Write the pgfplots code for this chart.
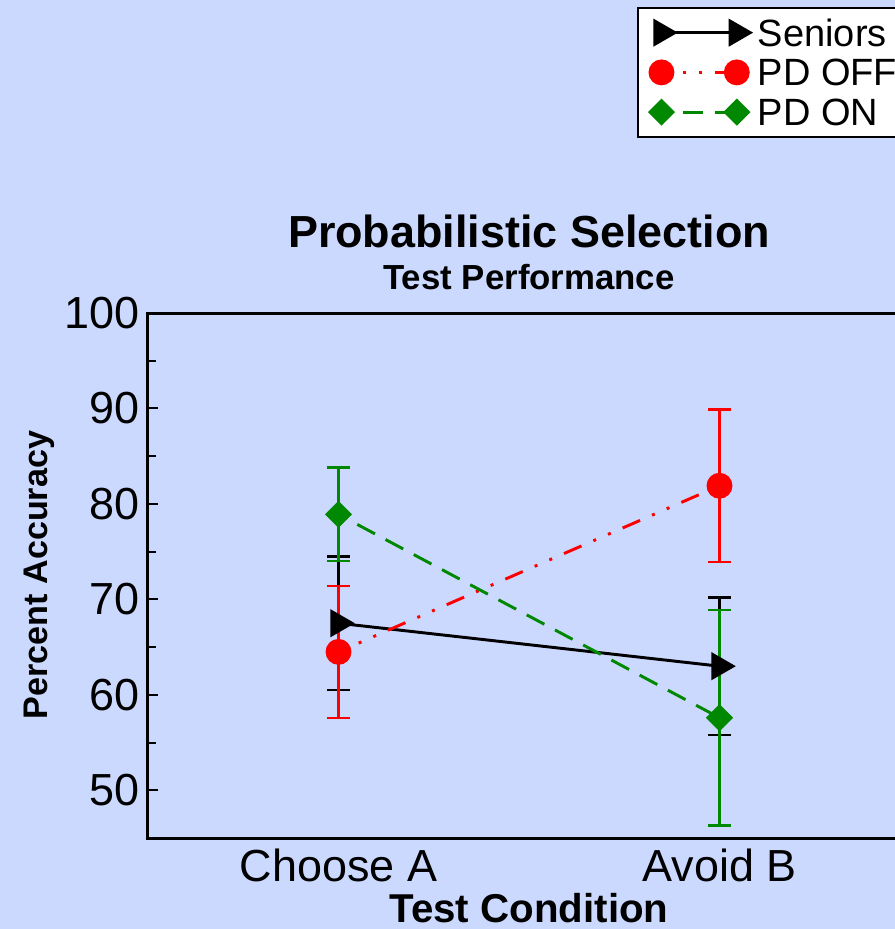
\documentclass[border=0pt]{standalone}
\usepackage{pgfplots}
\pgfplotsset{compat=1.18}
\usepackage{fontspec}
\setmainfont{Liberation Sans}
\definecolor{bgblue}{RGB}{204,217,255}
\definecolor{pdred}{RGB}{255,0,0}
\definecolor{pdgreen}{RGB}{0,136,0}
\begin{document}
\begin{tikzpicture}
\fill[bgblue] (0,0) rectangle (671.25pt,696.75pt);
\begin{axis}[
  at={(111pt,68.25pt)}, anchor=south west,
  scale only axis, width=571.5pt, height=393.75pt,
  xmin=-0.5, xmax=1.5, ymin=45, ymax=100,
  clip=false,
  axis line style={line width=2.25pt},
  xtick={0,1}, xticklabels={Choose A, Avoid B},
  xtick style={draw=none},
  ytick={50,60,70,80,90,100},
  minor ytick={55,65,75,85,95},
  ytick pos=left, tick align=inside,
  major tick length=7.5pt, minor tick length=6pt,
  every tick/.style={black, line width=1.5pt},
  /pgf/number format/assume math mode=true,
  xticklabel style={font=\fontsize{33.7}{33.7}\selectfont, anchor=base, inner sep=0pt, yshift=-32.8pt},
  yticklabel style={font=\fontsize{33.7}{33.7}\selectfont, anchor=east, inner sep=0pt, xshift=-6pt},
  every axis title shift=0pt,
  title={Probabilistic Selection},
  title style={font=\bfseries\fontsize{33.7}{33.7}\selectfont, at={(axis description cs:0.5,1.1251)}, anchor=base, inner sep=0pt},
  xlabel={Test Condition},
  xlabel style={font=\bfseries\fontsize{30.2}{30.2}\selectfont, at={(axis description cs:0.5,-0.1606)}, anchor=base, inner sep=0pt},
  ylabel={Percent Accuracy},
  ylabel style={font=\bfseries\fontsize{25.6}{25.6}\selectfont, at={(axis description cs:-0.1319,0.501)}, anchor=base, inner sep=0pt},
  legend style={at={(axis description cs:0.6417,1.5829)}, anchor=north west, draw=black, line width=1.5pt, fill=white,
    font=\fontsize{28.5}{28.5}\selectfont, inner xsep=9pt, inner ysep=8.4pt, row sep=9.6pt, column sep=5.8pt,
    nodes={inner sep=0pt, text height=20.2pt, text depth=0pt}},
  legend cell align=left,
  legend image code/.code={\draw[#1] plot coordinates {(0pt,0pt) (56.5pt,0pt)};},
]
\addplot[black, line width=2.2pt, mark=triangle*, mark size=10pt,
  mark options={solid, rotate=-90, fill=black, draw=none},
  error bars/.cd, y dir=both, y explicit,
  error bar style={line width=1.8pt, black, solid},
  error mark options={rotate=90, mark size=8.6pt, line width=1.8pt, black, solid}]
  coordinates {(0,67.5) +- (0,7.0) (1,63.0) +- (0,7.2)};
\addlegendentry{Seniors}
\addplot[pdred, line width=2.2pt, dash pattern=on 14.25pt off 9.75pt on 2.25pt off 9.75pt on 2.25pt off 9.75pt, dash phase=7.5pt,
  mark=*, mark size=8.6pt, mark options={solid, fill=pdred, draw=none},
  error bars/.cd, y dir=both, y explicit,
  error bar style={line width=1.8pt, pdred, solid},
  error mark options={rotate=90, mark size=8.6pt, line width=1.8pt, pdred, solid}]
  coordinates {(0,64.5) +- (0,6.9) (1,81.9) +- (0,8.0)};
\addlegendentry{PD OFF}
\addplot[pdgreen, line width=2.2pt, dash pattern=on 15pt off 9pt, dash phase=8pt,
  mark=square*, mark size=6.1pt, mark options={solid, rotate=45, fill=pdgreen, draw=none},
  error bars/.cd, y dir=both, y explicit,
  error bar style={line width=1.8pt, pdgreen, solid},
  error mark options={rotate=90, mark size=8.6pt, line width=1.8pt, pdgreen, solid}]
  coordinates {(0,78.9) +- (0,4.9) (1,57.6) +- (0,11.3)};
\addlegendentry{PD ON}
\node[anchor=base, font=\bfseries\fontsize{26.1}{26.1}\selectfont, inner sep=0pt] at (axis description cs:0.5,1.0457) {Test Performance};
\end{axis}
\pgfresetboundingbox
\path[use as bounding box] (0,0) rectangle (671.25pt,696.75pt);
\end{tikzpicture}
\end{document}
